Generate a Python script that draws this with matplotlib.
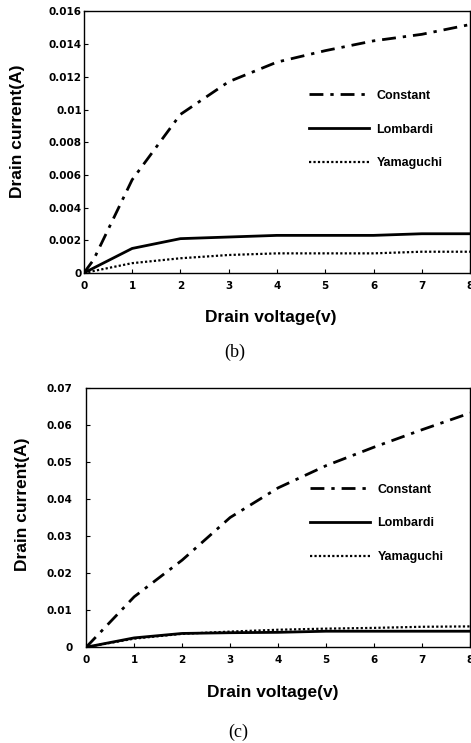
import matplotlib
matplotlib.use("Agg")
import matplotlib.pyplot as plt

plt.rcParams['font.family'] = ['Liberation Sans', 'DejaVu Sans']

# Panel (b)
vb_const = [0, 0.2, 1, 2, 3, 4, 5, 6, 7, 8]
ib_const = [0, 0.0008, 0.0057, 0.0097, 0.0117, 0.0129, 0.0136, 0.0142, 0.0146, 0.0152]
vb_lomb = [0, 1, 1.5, 2, 3, 4, 5, 6, 7, 8]
ib_lomb = [0, 0.0015, 0.0018, 0.0021, 0.0022, 0.0023, 0.0023, 0.0023, 0.0024, 0.0024]
vb_yama = [0, 1, 2, 3, 4, 5, 6, 7, 8]
ib_yama = [0, 0.0006, 0.0009, 0.0011, 0.0012, 0.0012, 0.0012, 0.0013, 0.0013]
yb_ticks = [0, 0.002, 0.004, 0.006, 0.008, 0.01, 0.012, 0.014, 0.016]
yb_labels = ['0', '0.002', '0.004', '0.006', '0.008', '0.01', '0.012', '0.014', '0.016']

# Panel (c)
vc_const = [0, 1, 2, 3, 4, 5, 6, 7, 8]
ic_const = [0, 0.0136, 0.0235, 0.035, 0.043, 0.049, 0.054, 0.0587, 0.0632]
vc_lomb = [0, 1, 2, 3, 4, 5, 6, 7, 8]
ic_lomb = [0, 0.0025, 0.0037, 0.0039, 0.0040, 0.0043, 0.0043, 0.0043, 0.0043]
vc_yama = [0, 1, 2, 3, 4, 5, 6, 7, 8]
ic_yama = [0, 0.0023, 0.0036, 0.0042, 0.0047, 0.0050, 0.0052, 0.0055, 0.0056]
yc_ticks = [0, 0.01, 0.02, 0.03, 0.04, 0.05, 0.06, 0.07]
yc_labels = ['0', '0.01', '0.02', '0.03', '0.04', '0.05', '0.06', '0.07']

x_ticks = [0, 1, 2, 3, 4, 5, 6, 7, 8]
labels = ['Constant', 'Lombardi', 'Yamaguchi']

fig = plt.figure(figsize=(4.71, 7.43), dpi=100)
axb = fig.add_axes([0.178, 0.6326, 0.82, 0.352])
axc = fig.add_axes([0.183, 0.129, 0.815, 0.349])

def style(ax, data, yt, yl, ymax, legend_anchor, ypad, ylab_xy, xlab_xy):
    (vx1, vy1), (vx2, vy2), (vx3, vy3) = data
    ax.plot(vx1, vy1, color='black', lw=2.0, linestyle=(0, (5, 2.5, 1.2, 2.5)), label=labels[0])
    ax.plot(vx2, vy2, color='black', lw=2.0, linestyle='-', label=labels[1])
    ax.plot(vx3, vy3, color='black', lw=1.6, linestyle=(0, (1, 1)), label=labels[2])
    ax.set_xlim(0, 8)
    ax.set_ylim(0, ymax)
    ax.set_xticks(x_ticks)
    ax.set_xticklabels([str(v) for v in x_ticks], fontweight='bold', fontsize=7.5,
                       family=['DejaVu Sans'])
    ax.set_yticks(yt)
    ax.set_yticklabels(yl, fontweight='bold', fontsize=7.5, family=['DejaVu Sans'])
    ax.tick_params(direction='in', length=3, width=0.8)
    ax.tick_params(axis='x', pad=6)
    ax.tick_params(axis='y', pad=ypad)
    for s in ax.spines.values():
        s.set_linewidth(1.0)
    ax.set_xlabel('Drain voltage(v)', fontweight='bold', fontsize=12.5)
    ax.set_ylabel('Drain current(A)', fontweight='bold', fontsize=12.5)
    ax.xaxis.set_label_coords(*xlab_xy)
    ax.yaxis.set_label_coords(*ylab_xy)
    ax.xaxis.label.set_va('center')
    ax.yaxis.label.set_va('center')
    leg = ax.legend(loc='upper left', bbox_to_anchor=legend_anchor, frameon=False,
                    fontsize=9, handlelength=4.8, handletextpad=0.6,
                    labelspacing=1.75, borderaxespad=0)
    for t in leg.get_texts():
        t.set_fontweight('bold')

style(axb, [(vb_const, ib_const), (vb_lomb, ib_lomb), (vb_yama, ib_yama)],
      yb_ticks, yb_labels, 0.016, (0.57, 0.72), 1.5, (-0.171, 0.54), (0.484, -0.172))
style(axc, [(vc_const, ic_const), (vc_lomb, ic_lomb), (vc_yama, ic_yama)],
      yc_ticks, yc_labels, 0.07, (0.57, 0.65), 10, (-0.167, 0.55), (0.487, -0.174))

fig.text(0.499, 1 - 352/743, '(b)', ha='center', va='center', fontsize=13, family='Liberation Serif')
fig.text(0.505, 1 - 732/743, '(c)', ha='center', va='center', fontsize=13, family='Liberation Serif')

fig.savefig('out.png', dpi=100)
